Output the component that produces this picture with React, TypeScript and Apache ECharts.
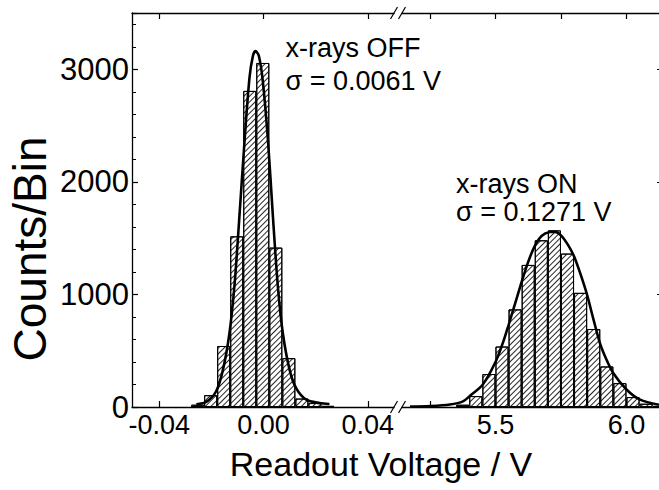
import React, { useEffect, useRef } from "react";
import * as echarts from "echarts";

// ---- data ----
const offBinCenters = [-0.0253, -0.0203, -0.0153, -0.0103, -0.0053, -0.0003, 0.0047, 0.0097, 0.0147, 0.0197, 0.0247];
const offCounts = [20, 105, 542, 1516, 2808, 3056, 1416, 434, 75, 35, 10];
const onBinCenters = [5.375, 5.425, 5.475, 5.525, 5.575, 5.625, 5.675, 5.725, 5.775, 5.825, 5.875, 5.925, 5.975, 6.025, 6.075, 6.125];
const onCounts = [20, 97, 293, 537, 867, 1262, 1481, 1569, 1363, 1014, 693, 360, 212, 88, 29, 10];

const offFitX = [-0.0258, -0.022, -0.0182, -0.0156, -0.0131, -0.0111, -0.0092, -0.0073, -0.0054, -0.0041, -0.0031, -0.0018, -0.0003, 0.0017, 0.0036, 0.0055, 0.0074, 0.01, 0.0125, 0.0164, 0.0215, 0.0253];
const offFitY = [25, 45, 140, 330, 655, 1097, 1717, 2365, 2926, 3118, 3162, 3118, 2896, 2365, 1687, 1067, 655, 330, 168, 65, 35, 27];
const onFitX = [5.174, 5.25, 5.326, 5.376, 5.403, 5.451, 5.501, 5.53, 5.55, 5.581, 5.6, 5.625, 5.648, 5.676, 5.708, 5.727, 5.75, 5.778, 5.801, 5.826, 5.85, 5.873, 5.899, 5.924, 5.95, 6.001, 6.052, 6.124];
const onFitY = [3, 8, 22, 50, 100, 197, 404, 581, 728, 965, 1112, 1289, 1421, 1519, 1554, 1556, 1525, 1436, 1333, 1171, 994, 788, 566, 420, 300, 153, 65, 20];

const offBinWidth = 0.005;
const onBinWidth = 0.05;

const leftRange = [-0.0505, 0.0516];
const rightRange = [5.128, 6.1395];
const leftTicks = [-0.04, 0, 0.04];
const rightTicks = [5.25, 5.5, 5.75, 6.0];
const rightLabels = [5.5, 6.0];
const yMax = 3500;
const yInterval = 1000;

const FONT = '"Liberation Sans", Arial, sans-serif';

export default function App() {
  const ref = useRef<HTMLDivElement>(null);
  useEffect(() => {
    const chart = echarts.init(ref.current!, null, { renderer: "svg" });
    const top = 13;
    const height = 394;
    const gL = { left: 132, width: 266 };
    const gR = { left: 398, width: 265 };
    const bwL = (offBinWidth * gL.width) / (leftRange[1] - leftRange[0]);
    const bwR = (onBinWidth * gR.width) / (rightRange[1] - rightRange[0]);

    const axisLine = { show: true, onZero: false, lineStyle: { color: "#000", width: 1.3 } };
    const hatch: any = {
      symbol: "rect",
      symbolSize: 1,
      color: "rgba(0,0,0,0.85)",
      backgroundColor: "#fff",
      dashArrayX: [1, 0],
      dashArrayY: [1, 2.4],
      rotation: -Math.PI / 4,
    };
    const xCommon = (range: number[], ticks: number[], labels: number[] | null, pos: string, digits: number, gridIndex: number) => ({
      type: "value",
      gridIndex,
      position: pos,
      min: range[0],
      max: range[1],
      axisLine,
      splitLine: { show: false },
      axisTick: { show: true, inside: true, length: 6, customValues: ticks, lineStyle: { color: "#000", width: 1.2 } },
      axisLabel: labels
        ? {
            show: true,
            customValues: labels,
            formatter: (v: number) => v.toFixed(digits),
            color: "#000",
            fontSize: 27,
            fontFamily: FONT,
            margin: 4,
          }
        : { show: false },
    });

    const breakMarks: any[] = [];
    [top, top + height].forEach((y) => {
      breakMarks.push({ type: "rect", shape: { x: 394.5, y: y - 2, width: 7, height: 4 }, style: { fill: "#fff" }, z: 100 });
      [390.5, 398.5].forEach((x) => {
        breakMarks.push({
          type: "line",
          shape: { x1: x, y1: y + 6, x2: x + 7, y2: y - 6 },
          style: { stroke: "#000", lineWidth: 1.2 },
          z: 101,
        });
      });
    });

    const txt = (text: string, x: number, y: number, size: number, extra: any = {}) => ({
      type: "text",
      x,
      y,
      z: 110,
      ...extra,
      style: { text, fill: "#000", fontSize: size, fontFamily: FONT, align: extra.align || "left", verticalAlign: "middle" },
    });

    const option: any = {
      animation: false,
      backgroundColor: "#fff",
      textStyle: { fontFamily: FONT },
      grid: [
        { left: gL.left, top, width: gL.width, height },
        { left: gR.left, top, width: gR.width, height },
      ],
      xAxis: [
        xCommon(leftRange, leftTicks, leftTicks, "bottom", 2, 0),
        xCommon(leftRange, leftTicks, null, "top", 2, 0),
        xCommon(rightRange, rightTicks, rightLabels, "bottom", 1, 1),
        xCommon(rightRange, rightTicks, null, "top", 1, 1),
      ],
      yAxis: [
        {
          type: "value",
          gridIndex: 0,
          position: "left",
          min: 0,
          max: yMax,
          interval: yInterval,
          axisLine,
          splitLine: { show: false },
          axisTick: { show: true, inside: true, length: 6, lineStyle: { color: "#000", width: 1.2 } },
          minorTick: { show: true, splitNumber: 5, length: 4, lineStyle: { color: "#000", width: 1 } },
          axisLabel: {
            show: true,
            color: "#000",
            fontSize: 31,
            fontFamily: FONT,
            margin: 3,
            showMaxLabel: false,
            formatter: (v: number) => String(v),
          },
        },
        {
          type: "value",
          gridIndex: 1,
          position: "right",
          min: 0,
          max: yMax,
          interval: yInterval,
          axisLine: { show: false, onZero: false },
          splitLine: { show: false },
          axisTick: { show: true, inside: true, length: 6, lineStyle: { color: "#000", width: 1.2 } },
          axisLabel: { show: false },
        },
      ],
      series: [
        {
          type: "bar",
          xAxisIndex: 0,
          yAxisIndex: 0,
          barWidth: bwL,
          data: offBinCenters.map((c, i) => [c, offCounts[i]]),
          itemStyle: { color: "#fff", borderColor: "#000", borderWidth: 1, decal: hatch },
          z: 2,
        },
        {
          type: "line",
          xAxisIndex: 0,
          yAxisIndex: 0,
          smooth: 0.3,
          showSymbol: false,
          data: offFitX.map((x, i) => [x, offFitY[i]]),
          lineStyle: { color: "#000", width: 2.6 },
          z: 3,
        },
        {
          type: "bar",
          xAxisIndex: 2,
          yAxisIndex: 1,
          barWidth: bwR,
          data: onBinCenters.map((c, i) => [c, onCounts[i]]),
          itemStyle: { color: "#fff", borderColor: "#000", borderWidth: 1, decal: hatch },
          z: 2,
        },
        {
          type: "line",
          xAxisIndex: 2,
          yAxisIndex: 1,
          smooth: 0.3,
          showSymbol: false,
          data: onFitX.map((x, i) => [x, onFitY[i]]),
          lineStyle: { color: "#000", width: 2.6 },
          z: 3,
        },
      ],
      graphic: [
        ...breakMarks,
        txt("x-rays OFF", 285.5, 47.5, 27),
        txt("\u03c3 = 0.0061 V", 285.5, 80.5, 27),
        txt("x-rays ON", 456, 183.5, 27),
        txt("\u03c3 = 0.1271 V", 456, 211.5, 27),
        txt("Readout Voltage / V", 381, 464, 34, { align: "center" }),
        txt("Counts/Bin", 30, 249, 46, { align: "center", rotation: Math.PI / 2 }),
      ],
    };
    chart.setOption(option);
    return () => chart.dispose();
  }, []);
  return (
    <div style={{ position: "absolute", left: 0, top: 0, width: 659, height: 490, overflow: "hidden", background: "#fff" }}>
      <div ref={ref} style={{ width: 672, height: 490 }} />
    </div>
  );
}
